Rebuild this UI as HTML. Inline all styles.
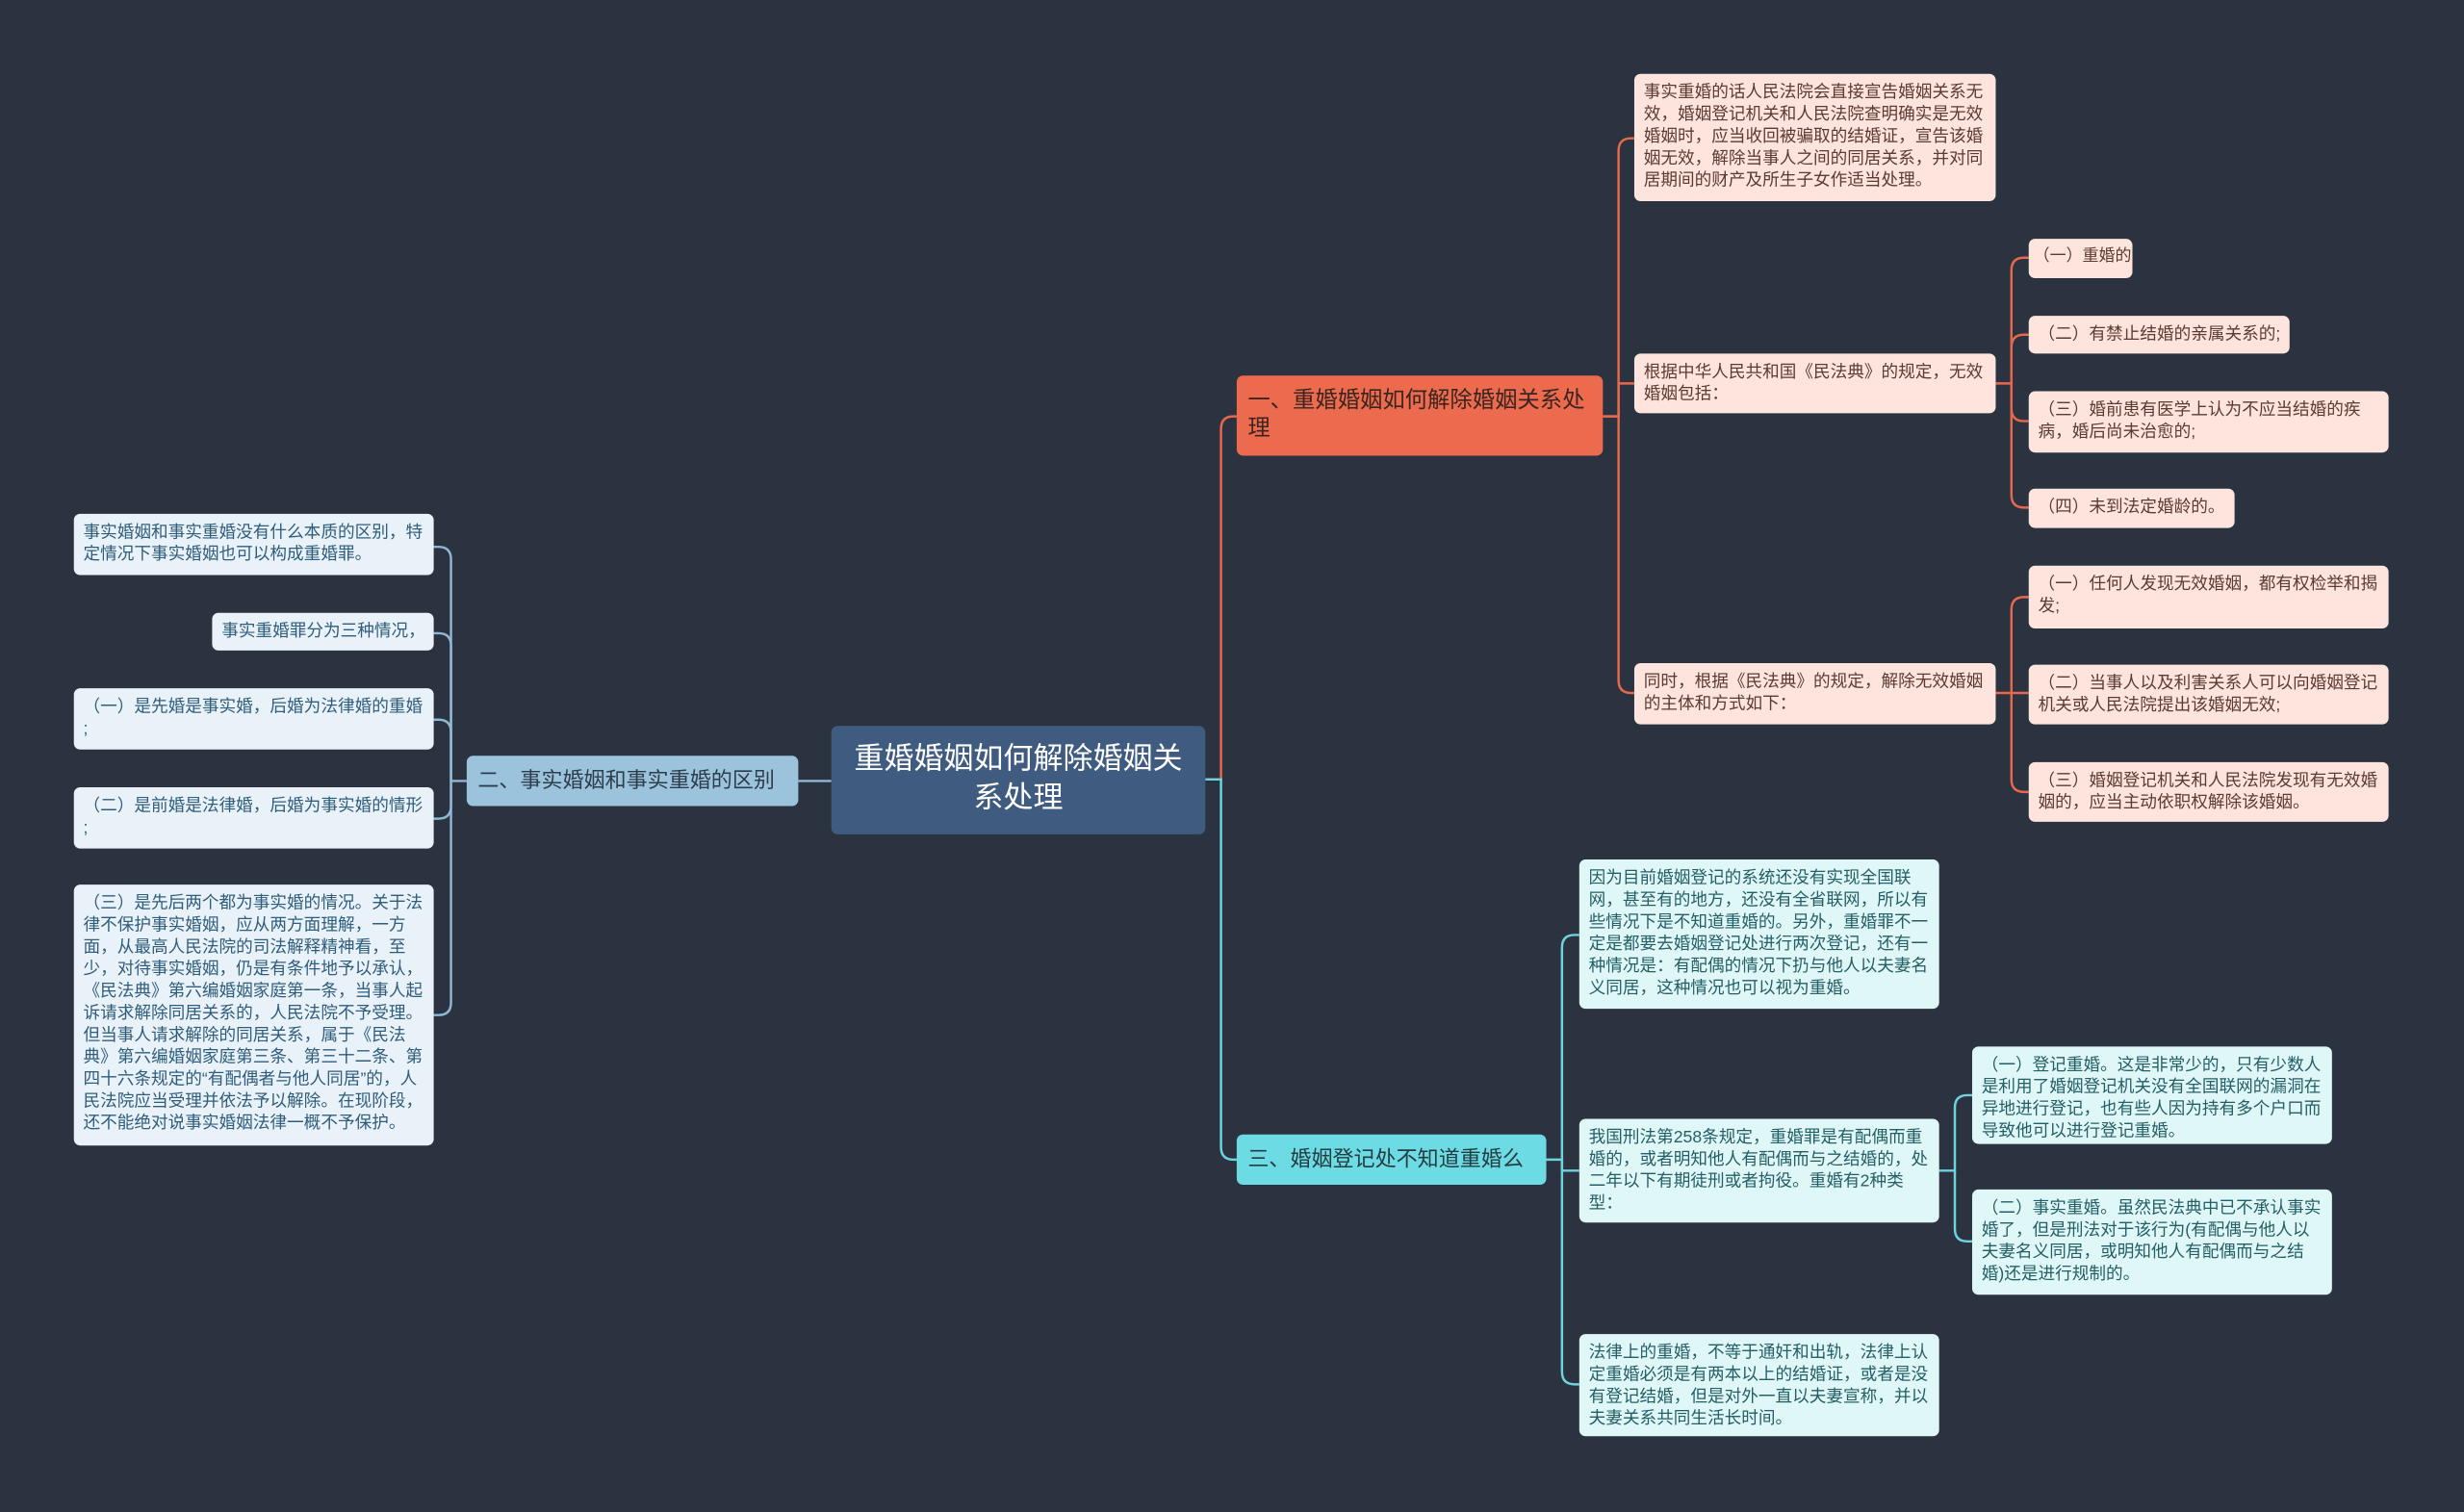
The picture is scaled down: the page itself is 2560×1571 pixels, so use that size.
<!DOCTYPE html>
<html><head><meta charset="utf-8"><style>
html,body{margin:0;padding:0;background:#2b3240;overflow:hidden}
#w{position:absolute;left:0;top:0;width:1568px;height:962px;transform:scale(1.63265);transform-origin:0 0}
.b{position:absolute;box-sizing:border-box;border-radius:4px;font-family:"Liberation Sans","Noto Sans CJK SC",sans-serif;font-size:10.8px;line-height:14px;padding:5px 5px 5px 6px;overflow:hidden}
.n{white-space:nowrap}
.p{background:#fde4dc;color:#5b3b33}
.l{background:#e9f2f8;color:#2f5d7c}
.t{background:#e0f7f8;color:#245f66}
svg{position:absolute;left:0;top:0}
</style></head><body><div id="w">
<svg width="1568" height="962" fill="none" stroke-width="1.5">
<g stroke="#e8684c">
<path d="M767,496 H777 V273 Q777,265 785,265 H787"/>
<path d="M1020,265 H1030 V96 Q1030,88 1038,88 H1040"/>
<path d="M1020,265 H1030 V244 H1040"/>
<path d="M1030,265 V433 Q1030,441 1038,441 H1040"/>
<path d="M1270,244 H1280 V172 Q1280,164 1288,164 H1291"/>
<path d="M1280,244 V221 Q1280,213 1288,213 H1291"/>
<path d="M1280,244 V260 Q1280,268 1288,268 H1291"/>
<path d="M1280,244 V315 Q1280,323 1288,323 H1291"/>
<path d="M1270,441 H1280 V388 Q1280,380 1288,380 H1291"/>
<path d="M1280,441 H1291"/>
<path d="M1280,441 V496 Q1280,504 1288,504 H1291"/>
</g>
<g stroke="#6fd3dc">
<path d="M767,496 H777 V730 Q777,738 785,738 H787"/>
<path d="M984,738 H994 V603 Q994,595 1002,595 H1005"/>
<path d="M994,738 V745 H1005"/>
<path d="M994,738 V873 Q994,881 1002,881 H1005"/>
<path d="M1234,745 H1244 V705 Q1244,697 1252,697 H1255"/>
<path d="M1244,745 V782 Q1244,790 1252,790 H1255"/>
</g>
<g stroke="#8fb8d2">
<path d="M529,497 H508"/>
<path d="M297,497 H287 V356 Q287,348 279,348 H276"/>
<path d="M287,497 V411 Q287,403 279,403 H276"/>
<path d="M287,497 V466 Q287,458 279,458 H276"/>
<path d="M287,497 V513 Q287,521 279,521 H276"/>
<path d="M287,497 V638 Q287,646 279,646 H276"/>
</g>
</svg>
<div class="b" style="left:529px;top:462px;width:238px;height:69px;background:#3f5b7f;color:#fff;font-size:19px;line-height:25px;text-align:center;padding:9px 8px">重婚婚姻如何解除婚姻关系处理</div>
<div class="b" style="left:787px;top:239px;width:233px;height:51px;background:#ec6a4d;color:#3a2520;font-size:14.3px;line-height:18px;padding:7px 7px">一、重婚婚姻如何解除婚姻关系处理</div>
<div class="b n" style="left:297px;top:481px;width:211px;height:32px;background:#9cc3dc;color:#2d3d4c;font-size:13.5px;line-height:18px;padding:7px 7px">二、事实婚姻和事实重婚的区别</div>
<div class="b n" style="left:787px;top:722px;width:197px;height:32px;background:#6ddbe3;color:#243c42;font-size:13.5px;line-height:18px;padding:7px 7px">三、婚姻登记处不知道重婚么</div>

<div class="b p" style="left:1040px;top:47px;width:230px;height:81px">事实重婚的话人民法院会直接宣告婚姻关系无效，婚姻登记机关和人民法院查明确实是无效婚姻时，应当收回被骗取的结婚证，宣告该婚姻无效，解除当事人之间的同居关系，并对同居期间的财产及所生子女作适当处理。</div>
<div class="b p" style="left:1040px;top:225px;width:230px;height:38px">根据中华人民共和国《民法典》的规定，无效婚姻包括：</div>
<div class="b p" style="left:1040px;top:422px;width:230px;height:39px">同时，根据《民法典》的规定，解除无效婚姻的主体和方式如下：</div>
<div class="b p n" style="left:1291px;top:152px;width:66px;height:25px;padding:5px 2px 5px 3px;font-size:10.4px">（一）重婚的;</div>
<div class="b p n" style="left:1291px;top:201px;width:166px;height:24px">（二）有禁止结婚的亲属关系的;</div>
<div class="b p" style="left:1291px;top:249px;width:229px;height:39px">（三）婚前患有医学上认为不应当结婚的疾病，婚后尚未治愈的;</div>
<div class="b p n" style="left:1291px;top:311px;width:131px;height:25px">（四）未到法定婚龄的。</div>
<div class="b p" style="left:1291px;top:360px;width:229px;height:40px">（一）任何人发现无效婚姻，都有权检举和揭发;</div>
<div class="b p" style="left:1291px;top:423px;width:229px;height:38px">（二）当事人以及利害关系人可以向婚姻登记机关或人民法院提出该婚姻无效;</div>
<div class="b p" style="left:1291px;top:485px;width:229px;height:38px">（三）婚姻登记机关和人民法院发现有无效婚姻的，应当主动依职权解除该婚姻。</div>

<div class="b l" style="left:47px;top:327px;width:229px;height:39px">事实婚姻和事实重婚没有什么本质的区别，特定情况下事实婚姻也可以构成重婚罪。</div>
<div class="b l n" style="left:135px;top:390px;width:141px;height:24px">事实重婚罪分为三种情况，</div>
<div class="b l" style="left:47px;top:438px;width:229px;height:39px">（一）是先婚是事实婚，后婚为法律婚的重婚<br>;</div>
<div class="b l" style="left:47px;top:501px;width:229px;height:39px">（二）是前婚是法律婚，后婚为事实婚的情形<br>;</div>
<div class="b l" style="left:47px;top:563px;width:229px;height:166px">（三）是先后两个都为事实婚的情况。关于法律不保护事实婚姻，应从两方面理解，一方面，从最高人民法院的司法解释精神看，至少，对待事实婚姻，仍是有条件地予以承认，《民法典》第六编婚姻家庭第一条，当事人起诉请求解除同居关系的，人民法院不予受理。但当事人请求解除的同居关系，属于《民法典》第六编婚姻家庭第三条、第三十二条、第四十六条规定的“有配偶者与他人同居”的，人民法院应当受理并依法予以解除。在现阶段，还不能绝对说事实婚姻法律一概不予保护。</div>

<div class="b t" style="left:1005px;top:547px;width:229px;height:95px">因为目前婚姻登记的系统还没有实现全国联网，甚至有的地方，还没有全省联网，所以有些情况下是不知道重婚的。另外，重婚罪不一定是都要去婚姻登记处进行两次登记，还有一种情况是：有配偶的情况下扔与他人以夫妻名义同居，这种情况也可以视为重婚。</div>
<div class="b t" style="left:1005px;top:712px;width:229px;height:66px">我国刑法第258条规定，重婚罪是有配偶而重婚的，或者明知他人有配偶而与之结婚的，处二年以下有期徒刑或者拘役。重婚有2种类型：</div>
<div class="b t" style="left:1005px;top:849px;width:229px;height:65px">法律上的重婚，不等于通奸和出轨，法律上认定重婚必须是有两本以上的结婚证，或者是没有登记结婚，但是对外一直以夫妻宣称，并以夫妻关系共同生活长时间。</div>
<div class="b t" style="left:1255px;top:666px;width:229px;height:62px">（一）登记重婚。这是非常少的，只有少数人是利用了婚姻登记机关没有全国联网的漏洞在异地进行登记，也有些人因为持有多个户口而导致他可以进行登记重婚。</div>
<div class="b t" style="left:1255px;top:757px;width:229px;height:67px">（二）事实重婚。虽然民法典中已不承认事实婚了，但是刑法对于该行为(有配偶与他人以夫妻名义同居，或明知他人有配偶而与之结婚)还是进行规制的。</div>
</div></body></html>
